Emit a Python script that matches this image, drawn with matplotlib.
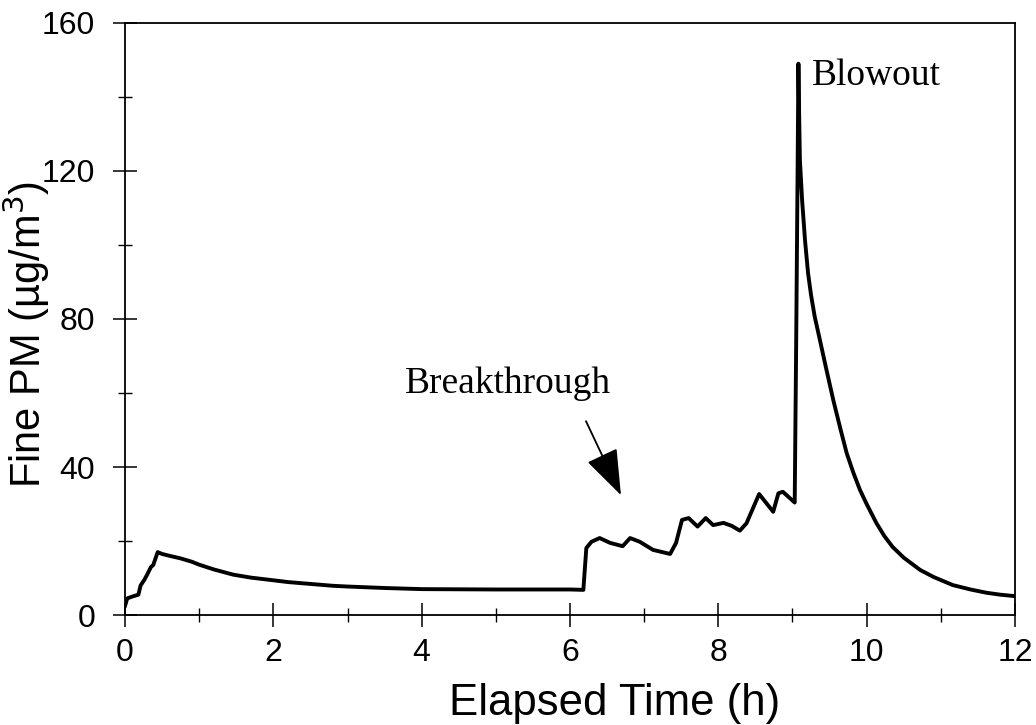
import matplotlib.pyplot as plt
from matplotlib.ticker import MultipleLocator

# elapsed time (h) and fine PM concentration (ug/m3)
hours = [0.0, 0.03, 0.1, 0.18, 0.21, 0.26, 0.30, 0.35, 0.38, 0.44, 0.50, 0.60,
         0.75, 0.90, 1.0, 1.2, 1.46, 1.7, 1.91, 2.2, 2.5, 2.8, 3.0, 3.5, 4.0,
         5.0, 6.0, 6.18, 6.22, 6.29, 6.40, 6.54, 6.71, 6.81, 6.94, 7.12, 7.35,
         7.43, 7.51, 7.60, 7.72, 7.83, 7.93, 8.07, 8.18, 8.29, 8.38, 8.55,
         8.74, 8.81, 8.87, 9.03, 9.05, 9.07, 9.08, 9.09, 9.10, 9.13, 9.17,
         9.21, 9.25, 9.30, 9.37, 9.45, 9.55, 9.64, 9.73, 9.82, 9.91, 10.0,
         10.13, 10.24, 10.35, 10.5, 10.72, 10.9, 11.16, 11.4, 11.62, 11.8, 12.0]
pm = [2.5, 4.5, 5.0, 5.5, 8.0, 9.5, 11.0, 13.0, 13.5, 17.0, 16.5, 16.0,
      15.3, 14.4, 13.6, 12.3, 10.9, 10.1, 9.6, 8.9, 8.4, 7.9, 7.7, 7.3, 7.0,
      6.9, 6.9, 6.8, 18.1, 19.8, 20.8, 19.5, 18.6, 20.8, 19.8, 17.6, 16.5,
      19.5, 25.7, 26.2, 23.9, 26.2, 24.3, 24.9, 24.1, 22.8, 24.8, 32.7,
      27.9, 32.9, 33.3, 30.4, 74.0, 123.0, 149.0, 135.0, 123.0, 112.0, 101.0,
      92.4, 86.5, 80.6, 74.3, 67.0, 58.1, 50.8, 43.8, 38.5, 33.8, 30.0,
      24.9, 21.3, 18.4, 15.5, 12.2, 10.3, 8.1, 6.9, 6.0, 5.5, 5.1]

x_ticks = [0, 2, 4, 6, 8, 10, 12]
y_ticks = [0, 40, 80, 120, 160]

plt.rcParams['font.family'] = ['Liberation Sans', 'DejaVu Sans']

fig = plt.figure(figsize=(10.36, 7.25), dpi=100)
ax = fig.add_axes([0.1207, 0.1517, 0.859, 0.8166])

ax.plot(hours, pm, color='black', lw=2.8, solid_joinstyle='round')

ax.set_xlim(0, 12)
ax.set_ylim(0, 160)
ax.set_xticks(x_ticks)
ax.set_yticks(y_ticks)
ax.xaxis.set_minor_locator(MultipleLocator(1))
ax.yaxis.set_minor_locator(MultipleLocator(20))
ax.tick_params(which='major', direction='inout', length=17, width=1.1,
               labelsize=23)
ax.tick_params(which='minor', direction='inout', length=10, width=1.0)
ax.tick_params(axis='x', which='major', pad=8)
ax.tick_params(axis='y', which='major', pad=13)
for s in ax.spines.values():
    s.set_linewidth(1.3)

fig.text(615 / 1036, 1 - 715 / 725, 'Elapsed Time (h)', fontsize=31.5,
         ha='center', va='baseline')
fig.text(41 / 1036, 1 - 334 / 725, 'Fine PM (\u00b5g/m$^3$)', fontsize=30,
         rotation=90, rotation_mode='anchor', ha='center', va='baseline')

ax.text(9.26, 143.2, 'Blowout', family='Liberation Serif', fontsize=27,
        ha='left', va='baseline')
ax.text(3.775, 60, 'Breakthrough', family='Liberation Serif', fontsize=27,
        ha='left', va='baseline')
ax.annotate('', xy=(6.687, 32.4), xytext=(6.215, 52.4),
            arrowprops=dict(arrowstyle='-|>,head_length=2.9,head_width=1.05',
                            mutation_scale=10, color='black', lw=1.3,
                            shrinkA=0, shrinkB=0))

fig.savefig('out.png', dpi=100)
